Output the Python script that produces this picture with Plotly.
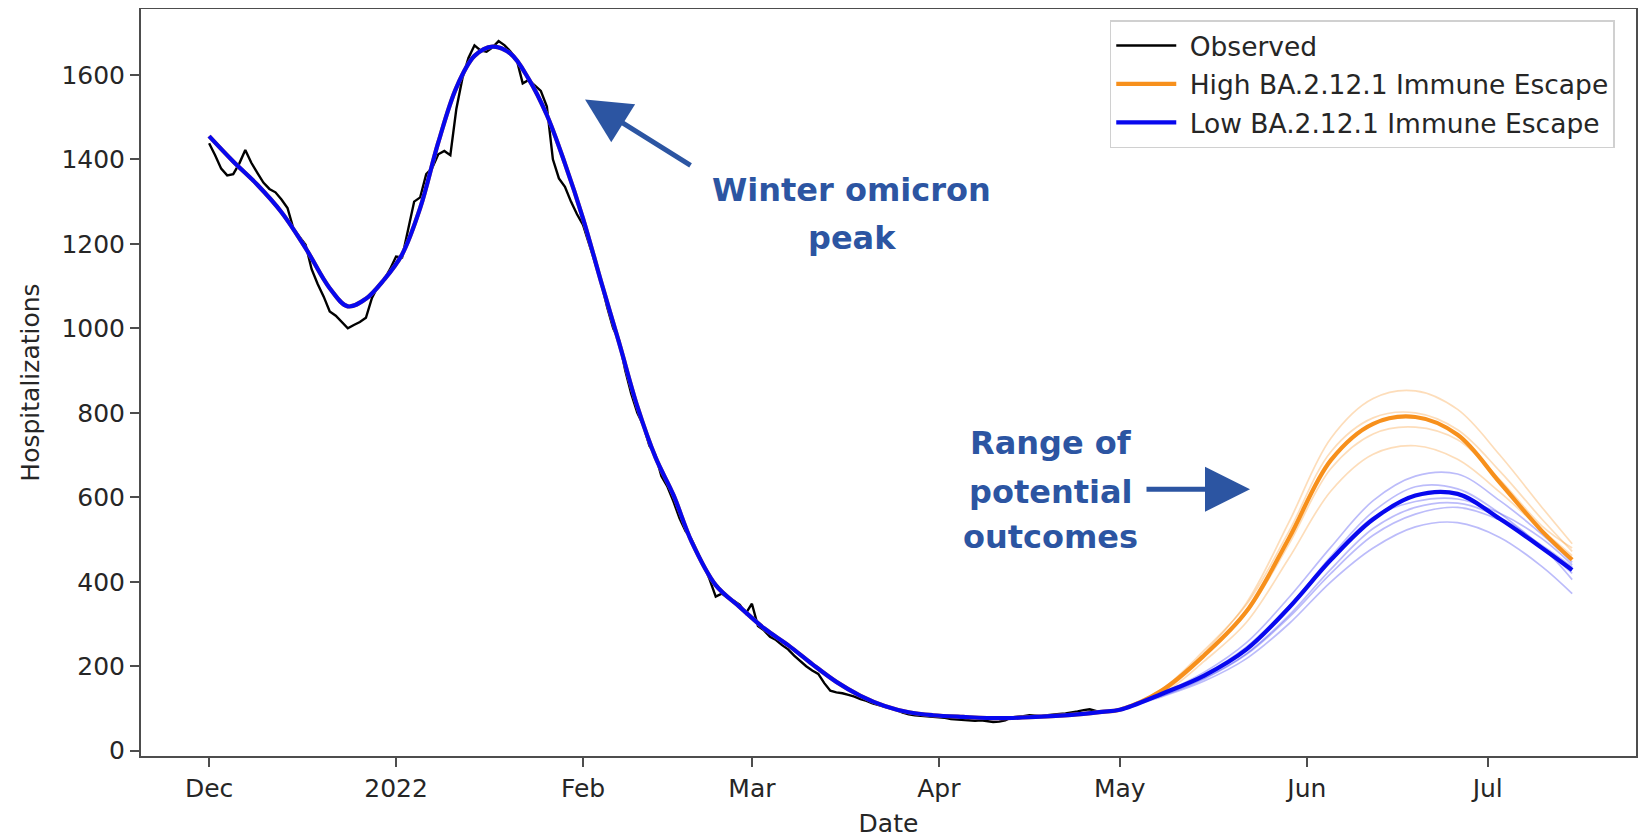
import pandas as pd
import plotly.graph_objects as go

BASE = pd.Timestamp("2021-12-01")

# Observed hospitalizations (day offset from 2021-12-01)
obs_days = list(range(0, 150))
obs_vals = [
    1438, 1410, 1378, 1362, 1365, 1390, 1422, 1392, 1368, 1345,
    1330, 1322, 1305, 1285, 1235, 1215, 1198, 1140, 1105, 1075,
    1040, 1030, 1015, 1000, 1008, 1015, 1025, 1072, 1100, 1115,
    1140, 1170, 1168, 1232, 1300, 1310, 1365, 1380, 1412, 1420,
    1410, 1520, 1592, 1640, 1670, 1658, 1655, 1665, 1680, 1670,
    1655, 1636, 1580, 1588, 1575, 1562, 1525, 1400, 1355, 1335,
    1300, 1270, 1245, 1200, 1150, 1110, 1050, 1000, 970, 900,
    845, 800, 770, 722, 700, 650, 625, 590, 550, 520,
    500, 470, 440, 405, 365, 372, 362, 355, 345, 325,
    348, 295, 285, 270, 262, 250, 240, 225, 212, 200,
    190, 182, 160, 142, 138, 136, 132, 128, 122, 118,
    112, 108, 104, 100, 96, 90, 86, 84, 83, 82,
    80, 79, 78, 75, 74, 73, 72, 71, 72, 70,
    68, 69, 72, 79, 80, 82, 84, 83, 82, 84,
    86, 87, 88, 90, 93, 96, 98, 94, 90, 93,
]

# Model fit to the observed period (shared by both scenarios)
fit_days = [0, 4, 8, 12, 16, 20, 23, 26, 29, 32, 35, 38, 41, 44, 47, 50, 53, 56,
            59, 62, 65, 68, 71, 74, 77, 80, 84, 88, 92, 96, 100, 104, 108, 112,
            116, 120, 125, 131, 137, 143, 148]
fit_vals = [1455, 1395, 1340, 1275, 1190, 1095, 1052, 1070, 1115, 1175, 1285, 1440,
            1570, 1645, 1667, 1650, 1590, 1505, 1390, 1260, 1110, 965, 815, 695,
            605, 495, 392, 340, 290, 250, 205, 163, 130, 106, 91, 84, 80, 77, 80,
            85, 92]

# Projection period
proj_days = [151, 158, 165, 172, 179, 186, 193, 200, 207, 214, 221, 226]
high_proj = [97, 143, 226, 330, 502, 688, 774, 790, 748, 635, 520, 452]
low_proj = [97, 135, 178, 240, 338, 452, 548, 604, 608, 549, 480, 428]

high_members = [
    [97, 140, 232, 350, 540, 740, 834, 852, 808, 700, 576, 490],
    [97, 146, 238, 346, 518, 708, 788, 800, 760, 662, 548, 472],
    [97, 138, 222, 326, 488, 668, 750, 766, 736, 642, 532, 480],
    [97, 134, 212, 304, 455, 615, 702, 722, 690, 612, 522, 462],
]
low_members = [
    [97, 136, 186, 256, 362, 482, 592, 650, 655, 592, 512, 446],
    [97, 133, 178, 240, 340, 460, 566, 625, 620, 562, 482, 420],
    [97, 134, 181, 246, 342, 456, 552, 590, 596, 562, 502, 440],
    [97, 131, 172, 230, 320, 430, 526, 576, 586, 552, 482, 405],
    [97, 130, 170, 228, 315, 420, 510, 560, 576, 546, 486, 435],
    [97, 128, 165, 218, 300, 400, 480, 530, 540, 505, 436, 372],
]

tick_dates = ["2021-12-01", "2022-01-01", "2022-02-01", "2022-03-01",
              "2022-04-01", "2022-05-01", "2022-06-01", "2022-07-01"]
tick_text = ["Dec", "2022", "Feb", "Mar", "Apr", "May", "Jun", "Jul"]
y_ticks = [0, 200, 400, 600, 800, 1000, 1200, 1400, 1600]


def to_dates(days):
    return BASE + pd.to_timedelta(days, unit="D")


ORANGE = "#f7901c"
BLUE = "#0808ee"
ANN = "#2c55a2"
NB = "\u00a0"

fig = go.Figure()

fig.add_trace(go.Scatter(
    x=to_dates(obs_days), y=obs_vals, mode="lines", name=NB + "Observed",
    line=dict(color="black", width=2.4), legendrank=1, legendgroup="a"))

for m in high_members:
    fig.add_trace(go.Scatter(
        x=to_dates(proj_days), y=m, mode="lines", showlegend=False,
        line=dict(color="rgba(247,144,28,0.3)", width=1.7, shape="spline"),
        hoverinfo="skip"))
for m in low_members:
    fig.add_trace(go.Scatter(
        x=to_dates(proj_days), y=m, mode="lines", showlegend=False,
        line=dict(color="rgba(8,8,238,0.27)", width=1.7, shape="spline"),
        hoverinfo="skip"))

fig.add_trace(go.Scatter(
    x=to_dates(fit_days + proj_days), y=fit_vals + high_proj, mode="lines",
    name=NB + "High BA.2.12.1 Immune Escape",
    line=dict(color=ORANGE, width=4.2, shape="spline"), legendrank=2, legendgroup="b"))
fig.add_trace(go.Scatter(
    x=to_dates(fit_days + proj_days), y=fit_vals + low_proj, mode="lines",
    name=NB + "Low BA.2.12.1 Immune Escape",
    line=dict(color=BLUE, width=4.2, shape="spline"), legendrank=3, legendgroup="c"))

TXT = dict(family="DejaVu Sans", size=32, color=ANN)
for text, x, y in [("<b>Winter omicron</b>", "2022-03-17 14:00", 1328),
                   ("<b>peak</b>", "2022-03-17 14:00", 1214),
                   ("<b>Range of</b>", "2022-04-19 14:00", 729),
                   ("<b>potential</b>", "2022-04-19 14:00", 613),
                   ("<b>outcomes</b>", "2022-04-19 14:00", 506)]:
    fig.add_annotation(x=x, y=y, text=text, showarrow=False, font=TXT,
                       xanchor="center", yanchor="middle")

fig.add_annotation(x="2022-02-01 08:00", y=1542, text="", showarrow=True,
                   ax=107, ay=67, axref="pixel", ayref="pixel",
                   arrowhead=2, arrowsize=1.8, arrowwidth=5, arrowcolor=ANN)
fig.add_annotation(x="2022-05-22 14:00", y=619, text="", showarrow=True,
                   ax=-105, ay=0, axref="pixel", ayref="pixel",
                   arrowhead=2, arrowsize=1.8, arrowwidth=5, arrowcolor=ANN)

axis_common = dict(showline=True, linecolor="#4d4d4d", linewidth=2, mirror=True,
                   ticks="outside", ticklen=9, tickwidth=1.6, tickcolor="#4d4d4d",
                   showgrid=False, zeroline=False, automargin=False,
                   tickfont=dict(family="DejaVu Sans", size=25, color="#262626"))

fig.update_xaxes(range=["2021-11-19 17:00", "2022-07-25 14:00"],
                 tickvals=tick_dates, ticktext=tick_text,
                 title=dict(text="Date", standoff=22,
                            font=dict(family="DejaVu Sans", size=25, color="#262626")),
                 **axis_common)
fig.update_yaxes(range=[-12.5, 1756], tickvals=y_ticks,
                 title=dict(text="Hospitalizations", standoff=15,
                            font=dict(family="DejaVu Sans", size=25, color="#262626")),
                 **axis_common)

# The page adds an 8px body margin; size the figure so the plot lands in place.
fig.update_layout(
    template="none",
    width=1639, height=830,
    margin=dict(l=133, r=11, t=1, b=82),
    paper_bgcolor="white", plot_bgcolor="white",
    showlegend=True,
    legend=dict(x=0.648, y=0.985, xanchor="left", yanchor="top",
                bgcolor="rgba(255,255,255,0.85)", bordercolor="#d0d0d0", borderwidth=1.5,
                font=dict(family="DejaVu Sans", size=26.5, color="#262626"),
                itemwidth=60, traceorder="grouped", tracegroupgap=1),
)

fig.write_html("out.html")
